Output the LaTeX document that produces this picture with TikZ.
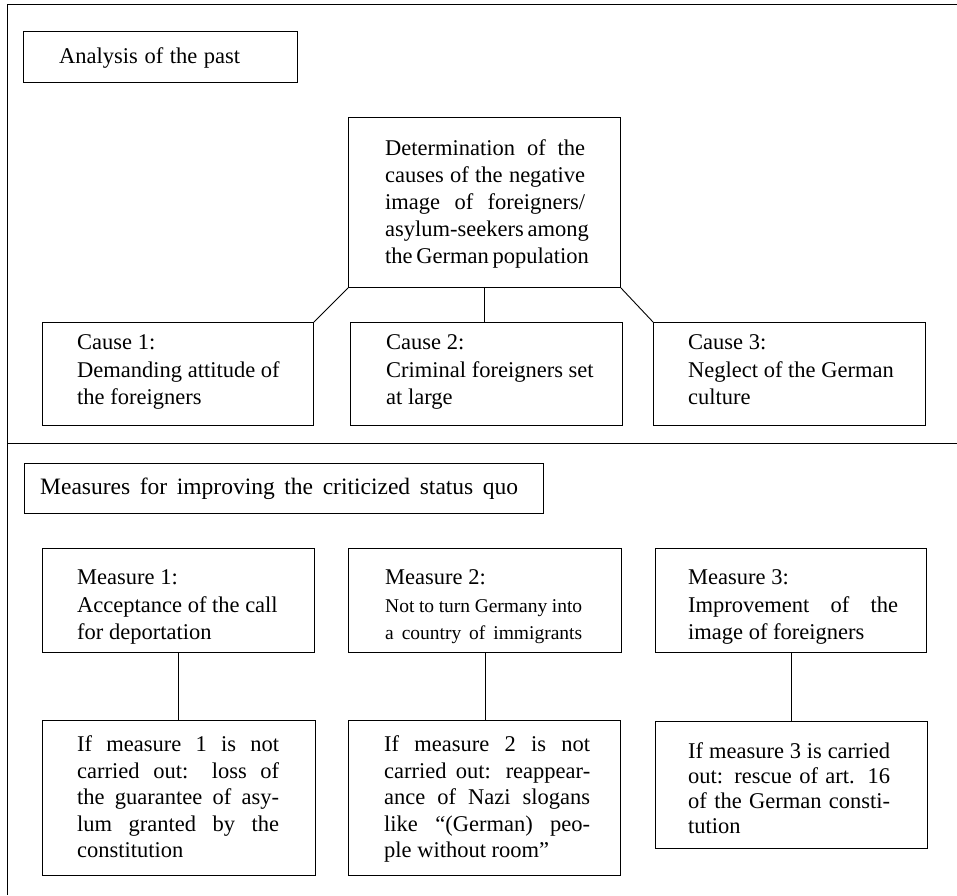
\documentclass[tikz,border=0pt]{standalone}
\usepackage{fontspec}
\setmainfont{Liberation Serif}
\newcommand\jl[2]{\makebox[#1][s]{#2}}
\begin{document}
\begin{tikzpicture}[x=1pt,y=-1pt,
  box/.style={draw, line width=0.9pt, rectangle, anchor=north west, inner sep=0pt},
  txt/.style={anchor=north west, inner sep=0pt, align=left, font=\fontsize{22.5}{27}\selectfont},
  frame/.style={line width=1pt},
  conn/.style={line width=0.9pt}]
\useasboundingbox (0,0) rectangle (957,895);
% frame
\draw[frame] (957,4) -- (7,4) -- (7,895);
\draw[frame] (7,443) -- (957,443);

% upper part
\node[box, minimum width=274pt, minimum height=51pt] (ana) at (23,31) {};
\node[txt] (anat) at (59,47.7) {\jl{181pt}{Analysis of the past}};

\node[box, minimum width=272pt, minimum height=170pt] (det) at (348,117) {};
\node[txt] (dett) at (385,139.7) {\jl{200pt}{Determination of the}\\
\jl{200pt}{causes of the negative}\\
\jl{200pt}{image of foreigners/}\\
\jl{200pt}{asylum-seekers among}\\
\jl{200pt}{the German population}};

\node[box, minimum width=271pt, minimum height=103pt] (c1) at (42,322) {};
\node[txt, font=\fontsize{22.5}{27.5}\selectfont] (c1t) at (77,334.7) {Cause 1:\\Demanding attitude of\\the foreigners};
\node[box, minimum width=272pt, minimum height=103pt] (c2) at (350,322) {};
\node[txt, font=\fontsize{22.5}{27.5}\selectfont] (c2t) at (386,334.7) {Cause 2:\\Criminal foreigners set\\at large};
\node[box, minimum width=272pt, minimum height=103pt] (c3) at (653,322) {};
\node[txt, font=\fontsize{22.5}{27.5}\selectfont] (c3t) at (688,334.7) {Cause 3:\\Neglect of the German\\culture};

\draw[conn] (det.south west) -- (c1.north east);
\draw[conn] (det.south) -- (det.south |- c2.north);
\draw[conn] (det.south east) -- (c3.north west);

% lower part
\node[box, minimum width=519pt, minimum height=50pt] (meas) at (24,463) {};
\node[txt, font=\fontsize{23.5}{27}\selectfont] (meast) at (40,477.7) {\jl{478pt}{Measures for improving the criticized status quo}};

\node[box, minimum width=272pt, minimum height=104pt] (m1) at (42,548) {};
\node[txt, font=\fontsize{22.5}{27.5}\selectfont] (m1t) at (77,569.7) {Measure 1:\\Acceptance of the call\\for deportation};
\node[box, minimum width=273pt, minimum height=104pt] (m2) at (348,548) {};
\node[txt, font=\fontsize{22.5}{27.5}\selectfont] (m2t) at (385,569.7) {Measure 2:\\
{\fontsize{19.5}{23}\selectfont\jl{197pt}{Not to turn Germany into}}\\
{\fontsize{19.5}{23}\selectfont\jl{197pt}{a country of immigrants}}};
\node[box, minimum width=271pt, minimum height=104pt] (m3) at (655,548) {};
\node[txt, font=\fontsize{22.5}{27.5}\selectfont] (m3t) at (688,569.7) {Measure 3:\\\jl{210pt}{Improvement of the}\\image of foreigners};

\node[box, minimum width=273pt, minimum height=155pt] (l1) at (42,720) {};
\node[txt, font=\fontsize{22.5}{26.5}\selectfont] (l1t) at (77,735.7) {\jl{202pt}{If measure 1 is not}\\
\jl{202pt}{carried out: loss of}\\
\jl{202pt}{the guarantee of asy-}\\
\jl{202pt}{lum granted by the}\\
constitution};
\node[box, minimum width=272pt, minimum height=155pt] (l2) at (348,720) {};
\node[txt, font=\fontsize{22.5}{26.5}\selectfont] (l2t) at (384,735.7) {\jl{206pt}{If measure 2 is not}\\
\jl{206pt}{carried out: reappear-}\\
\jl{206pt}{ance of Nazi slogans}\\
\jl{206pt}{like “(German) peo-}\\
ple without room”};
\node[box, minimum width=272pt, minimum height=127pt] (l3) at (655,721) {};
\node[txt, font=\fontsize{22.5}{25}\selectfont] (l3t) at (688,742.7) {\jl{202pt}{If measure 3 is carried}\\
\jl{202pt}{out: rescue of art. 16}\\
\jl{202pt}{of the German consti-}\\
tution};

\draw[conn] (m1.south) -- (m1.south |- l1.north);
\draw[conn] (m2.south) -- (m2.south |- l2.north);
\draw[conn] (m3.south) -- (m3.south |- l3.north);
\end{tikzpicture}
\end{document}
